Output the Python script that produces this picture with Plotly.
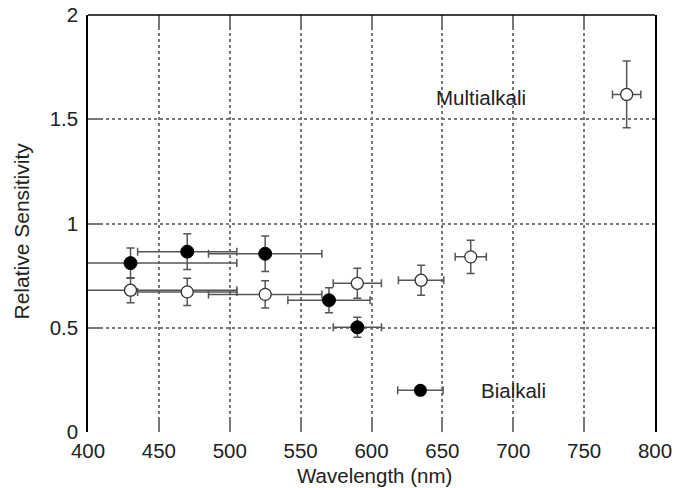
import plotly.graph_objects as go

# Bialkali (filled)
bi_x = [430, 470, 525, 570, 590]
bi_y = [0.81, 0.865, 0.855, 0.632, 0.502]
bi_xerr = [75, 35, 40, 29, 17]
bi_yerr = [0.073, 0.086, 0.085, 0.06, 0.048]

# Multialkali (open)
mu_x = [430, 470, 525, 590, 635, 670, 780]
mu_y = [0.68, 0.672, 0.66, 0.713, 0.728, 0.84, 1.619]
mu_xerr = [75, 35, 40, 17, 16, 11, 10]
mu_yerr = [0.06, 0.065, 0.065, 0.072, 0.072, 0.08, 0.16]

# legend marker
leg_x = [634.5]
leg_y = [0.2]
leg_xerr = [16]

x_ticks = [400, 450, 500, 550, 600, 650, 700, 750, 800]
y_ticks = [0, 0.5, 1, 1.5, 2]
y_ticktext = ["0", "0.5", "1", "1.5", "2"]

ERR = "#555555"
TXT = "#222222"
FONT = "Liberation Sans, Arial, sans-serif"

fig = go.Figure()

def err(vals, w):
    return dict(type="data", array=vals, visible=True, color=ERR, thickness=1.5, width=w)

fig.add_trace(go.Scatter(
    x=mu_x, y=mu_y, mode="markers",
    marker=dict(size=12, color="white", line=dict(color="#333333", width=1.3)),
    error_x=err(mu_xerr, 4), error_y=err(mu_yerr, 4), cliponaxis=True,
    showlegend=False))
fig.add_trace(go.Scatter(
    x=bi_x, y=bi_y, mode="markers",
    marker=dict(size=13, color="black", line=dict(color="black", width=1)),
    error_x=err(bi_xerr, 4), error_y=err(bi_yerr, 4), cliponaxis=True,
    showlegend=False))
fig.add_trace(go.Scatter(
    x=leg_x, y=leg_y, mode="markers",
    marker=dict(size=13, color="black"),
    error_x=err(leg_xerr, 4), showlegend=False))

fig.add_annotation(x=677.5, y=1.606, text="Multialkali", showarrow=False,
                   xanchor="center", yanchor="middle", font=dict(size=20.5, color=TXT, family=FONT))
fig.add_annotation(x=676, y=0.2, text="Bialkali", showarrow=False,
                   xanchor="left", yanchor="middle", font=dict(size=20.5, color=TXT, family=FONT))

# axis titles (plot area is 567 x 417.5 px)
fig.add_annotation(xref="paper", yref="paper", x=0.505, y=-0.1055, text="Wavelength (nm)",
                   showarrow=False, xanchor="center", yanchor="middle",
                   font=dict(size=20.5, color=TXT, family=FONT))
fig.add_annotation(xref="paper", yref="paper", x=-0.1173, y=0.482, text="Relative Sensitivity",
                   showarrow=False, xanchor="center", yanchor="middle", textangle=-90,
                   font=dict(size=21, color=TXT, family=FONT))

# top border line (no bottom line in reference)
fig.add_shape(type="line", xref="paper", yref="paper", x0=0, x1=1, y0=1, y1=1,
              line=dict(color="black", width=1.5))

fig.update_xaxes(
    range=[400, 800], tickvals=x_ticks, ticktext=[str(v) for v in x_ticks],
    showline=False, zeroline=False, automargin=False,
    showgrid=True, gridcolor="#777777", griddash="dot", gridwidth=1.5,
    ticks="inside", ticklen=12, tickcolor="#777777", tickwidth=1.5, mirror="ticks",
    ticklabelstandoff=4, ticklabeloverflow="allow",
    tickfont=dict(size=20.5, color=TXT, family=FONT),
)
fig.update_yaxes(
    range=[0, 2], tickvals=y_ticks, ticktext=y_ticktext,
    showline=True, linecolor="black", linewidth=1.5, mirror=True, zeroline=False,
    automargin=False,
    showgrid=True, gridcolor="#777777", griddash="dot", gridwidth=1.5,
    ticks="inside", ticklen=12, tickcolor="#777777", tickwidth=1.5,
    ticklabelstandoff=4, ticklabeloverflow="allow",
    tickfont=dict(size=20.5, color=TXT, family=FONT),
)

fig.update_layout(
    width=688, height=488,
    margin=dict(l=88, r=33, t=14.5, b=56),
    paper_bgcolor="white", plot_bgcolor="white",
    font=dict(family=FONT),
)

# remove the default 8px page margin so the figure fills the window exactly
fig.write_html("out.html",
               config={"displayModeBar": False},
               post_script="document.body.style.margin='0';document.body.style.overflow='hidden';")
